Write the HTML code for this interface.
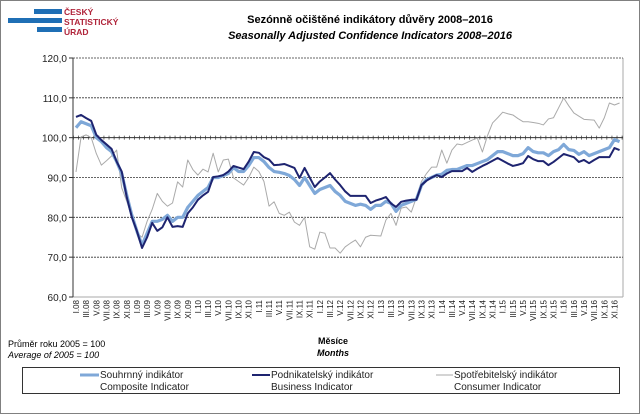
<!DOCTYPE html>
<html><head><meta charset="utf-8"><style>
body{margin:0;width:640px;height:414px;overflow:hidden;background:#fff;font-family:"Liberation Sans",sans-serif}
#frame{position:absolute;left:0;top:0;width:638px;height:412px;border:1px solid #808080}
</style></head><body>
<div id="frame"></div>
<svg id="chart" width="640" height="414" style="position:absolute;left:0;top:0">
<g>
<rect x="34" y="9" width="28" height="5" fill="#1f6fb5"/>
<rect x="8" y="18" width="54" height="5" fill="#1f6fb5"/>
<rect x="37" y="27" width="25" height="5" fill="#1f6fb5"/>
<text x="64" y="15" font-size="8.5" font-weight="bold" fill="#b0243a">ČESKÝ</text>
<text x="64" y="25" font-size="8.5" font-weight="bold" fill="#b0243a">STATISTICKÝ</text>
<text x="64" y="35" font-size="8.5" font-weight="bold" fill="#b0243a">ÚRAD</text>
</g>
<text x="370" y="23" font-size="11" font-weight="bold" text-anchor="middle">Sezónně očištěné indikátory důvěry 2008–2016</text>
<text x="370" y="39" font-size="11" font-weight="bold" font-style="italic" text-anchor="middle">Seasonally Adjusted Confidence Indicators 2008–2016</text>
<g id="grid"></g><g id="ticks"></g><g id="series"></g><g id="xlabels"></g>
<text x="333" y="344" font-size="9" font-weight="bold" text-anchor="middle">Měsíce</text>
<text x="333" y="356" font-size="9" font-weight="bold" font-style="italic" text-anchor="middle">Months</text>
<text x="8" y="347" font-size="9">Průměr roku 2005 = 100</text>
<text x="8" y="358" font-size="9" font-style="italic">Average of 2005 = 100</text>
<g>
<rect x="22.5" y="367.5" width="597" height="26" fill="none" stroke="#333"/>
<line x1="80" y1="375" x2="99" y2="375" stroke="#7fa8d8" stroke-width="3"/>
<text x="100" y="378" font-size="10" fill="#222">Souhrnný indikátor</text>
<text x="100" y="390" font-size="10" fill="#222">Composite Indicator</text>
<line x1="252" y1="375" x2="270" y2="375" stroke="#1e2470" stroke-width="2"/>
<text x="271" y="378" font-size="10" fill="#222">Podnikatelský indikátor</text>
<text x="271" y="390" font-size="10" fill="#222">Business Indicator</text>
<line x1="436" y1="375" x2="453" y2="375" stroke="#aaa" stroke-width="1"/>
<text x="454" y="378" font-size="10" fill="#222">Spotřebitelský indikátor</text>
<text x="454" y="390" font-size="10" fill="#222">Consumer Indicator</text>
</g>
</svg>
<script>
const yTicks=[60,70,80,90,100,110,120];
const yTickLabels=["60,0","70,0","80,0","90,0","100,0","110,0","120,0"];
const monthNames=["I","III","V","VII","IX","XI"];
const years=["08","09","10","11","12","13","14","15","16"];
const business=[105.2,105.7,104.9,104.2,100.7,99.4,98.3,97.2,94,91.5,85,80,
76.5,72.3,75,78.6,76.6,77.5,80,77.6,77.8,77.6,81,82.5,
84.4,85.5,86.4,90.1,90.3,90.6,91.5,92.9,92.5,92.1,94,96.4,
96.2,95.1,94.5,93.1,93.2,93.4,92.9,92.4,89.9,92.4,90,87.6,
89,90,91.1,89.5,88.1,86.5,85.4,85.4,85.4,85.4,83.6,84.2,
84.6,85.1,83.5,82.6,83.9,84.2,84.4,84.4,88.1,89.2,90,90.6,
90.1,91,91.6,91.6,91.6,92.4,91.4,92.2,92.9,93.5,94.2,94.9,
94.2,93.5,92.9,93.2,93.6,95.4,94.6,94.1,94.1,93.1,93.9,94.9,
95.9,95.5,95.1,93.9,94.4,93.6,94.4,95.1,95.1,95.1,97.4,96.9];
const composite=[102.5,104,103.5,103,100,99,97.5,96.5,94,91,85.5,80.5,
76.5,73,76,79,79,79.5,80.5,79,80,80,82.5,84,
85.5,86.5,87.5,90,90,90.5,91,92.5,91.5,91.5,93,95,
95,94,92.5,91.5,91.3,91,90.5,89.5,88,90,88,86,
87,87.5,88,86.5,85.5,84,83.5,83,83.3,83,82,83,
83,84,83.5,81.5,83,83.5,84,84.5,88,89.5,90,90.6,
90.8,91.8,92,92,92.5,93,93,93.5,94,94.5,95.5,96.5,
96.5,96,95.5,95.5,96,97.5,96.5,96.2,96.2,95.5,96.5,97,
98.3,97,96.8,95.8,96.5,95.5,96,96.5,97,97.5,99.5,99];
const consumer=[91.4,100.2,100.7,100,96,93.1,94.2,95.4,96.9,87.4,84,80,
76,75,79,82,86,84,82.8,83.6,88.9,87.6,94.4,92,
90.6,92.1,91.4,96.1,91.4,94.4,94.6,89.9,89,88.1,90,92.6,
91.5,89,82.8,83.9,81,80.5,81.3,78.8,78,80,72.6,72,
76.3,76,72.3,72.3,71,72.6,73.5,74.3,72.6,75,75.5,75.4,
75.3,79.3,81,78,82.3,82.6,81.3,85,89,91,92.6,92.6,
96.9,93.6,96.9,98.4,98.2,98.8,99.4,99.9,96.4,100.5,103.7,105,
106.4,106,105.7,104.8,104,104,103.8,103.6,103.2,104.7,105,107.5,
110,108,106.2,105.4,104.6,104.5,104.4,102.4,105,108.7,108.2,108.7];
const NS="http://www.w3.org/2000/svg";
const L=73,R=623,T=58,B=297;
const y=v=>B-(v-60)/60*(B-T);
const x=i=>76+i*5.08;
function mk(tag,attrs,parent){const e=document.createElementNS(NS,tag);for(const k in attrs)e.setAttribute(k,attrs[k]);parent.appendChild(e);return e;}
const grid=document.getElementById('grid'),ticks=document.getElementById('ticks'),series=document.getElementById('series'),xl=document.getElementById('xlabels');
mk('line',{x1:R,y1:T,x2:R,y2:B,stroke:'#aaa'},grid);
mk('line',{x1:L,y1:B,x2:R,y2:B,stroke:'#aaa'},grid);
yTicks.forEach((v,i)=>{
  if(v!==60&&v!==100){const g=mk('line',{x1:L,y1:y(v),x2:R,y2:y(v),stroke:'#333','stroke-dasharray':'2,1','stroke-width':0.8},grid);
  
  }
  mk('line',{x1:L-4,y1:y(v),x2:L,y2:y(v),stroke:'#333'},ticks);
  const t=mk('text',{x:L-6,y:y(v)+4,'font-size':10,'text-anchor':'end',fill:'#222'},ticks);
  t.textContent=yTickLabels[i];
  
  
});
mk('line',{x1:L,y1:T,x2:L,y2:B,stroke:'#333'},grid);
const ax=mk('line',{x1:L,y1:y(100),x2:R,y2:y(100),stroke:'#333','stroke-width':1},grid);


for(let i=0;i<=108;i++){const xx=76+(i-0.5)*5.08;if(xx<L||xx>R)continue;mk('line',{x1:xx,y1:y(100)-2,x2:xx,y2:y(100)+2,stroke:'#333','stroke-width':0.7},ticks);}
function draw(data,color,w,name){const p=mk('polyline',{points:data.map((v,i)=>x(i)+','+y(v)).join(' '),fill:'none',stroke:color,'stroke-width':w,'stroke-linejoin':'round'},series);

}
draw(consumer,'#aaaaaa',1,'consumer-line');
draw(composite,'#7fa8d8',3.2,'composite-line');
draw(business,'#1e2470',2,'business-line');
years.forEach((yr,yi)=>monthNames.forEach((m,mi)=>{
  const i=yi*12+mi*2,xx=x(i)+3;
  const t=mk('text',{x:xx,y:300,'font-size':8,'text-anchor':'end',fill:'#222',transform:`rotate(-90 ${xx} 300)`},xl);
  t.textContent=m+'.'+yr;
  
  
}));
</script>
</body></html>
